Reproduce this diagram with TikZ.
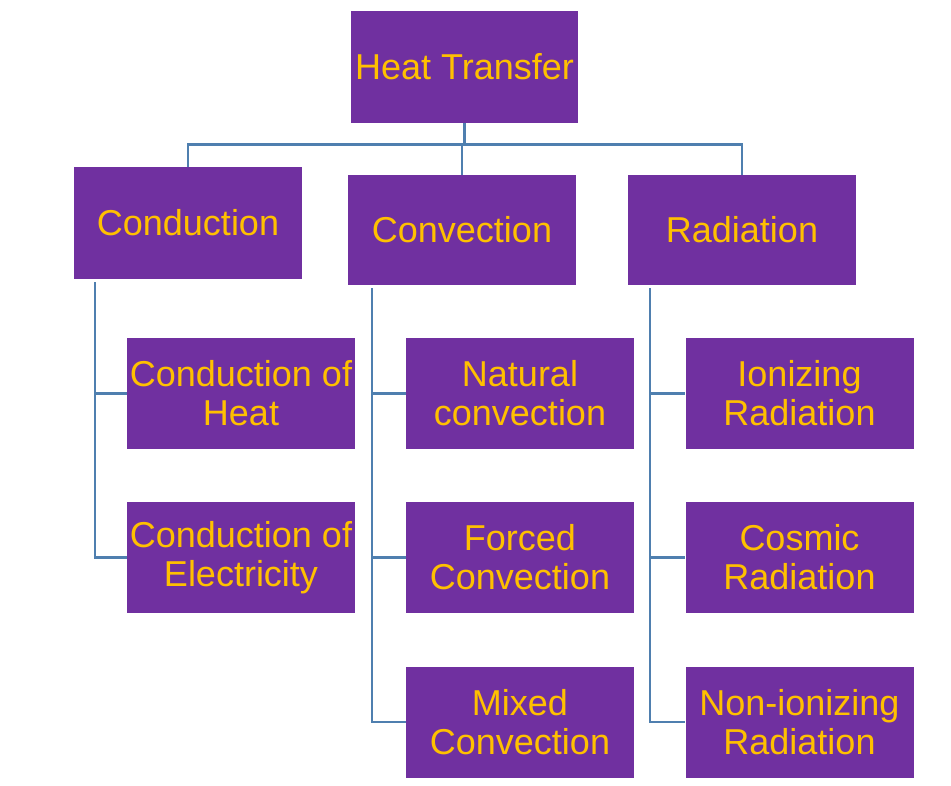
\documentclass[tikz,border=0pt]{standalone}
\usepackage{fontspec}
\setmainfont{Liberation Sans}
\definecolor{boxpurple}{HTML}{7030A0}
\definecolor{boxgold}{HTML}{FFC000}
\definecolor{linkblue}{HTML}{4F7FAF}
\begin{document}
\begin{tikzpicture}[x=1pt,y=-1pt,
  tbox/.style={draw=none,fill=boxpurple,text=boxgold,minimum width=228pt,minimum height=111pt,
    inner sep=0pt,align=center,font=\fontsize{36}{39}\selectfont},
  link/.style={draw=linkblue,line width=2.6pt}]
\useasboundingbox (0,0) rectangle (951,785);
\fill[white] (0,0) rectangle (951,785);
% top
\node[tbox,minimum width=227pt,minimum height=112pt] (heat) at (464.5,67) {Heat Transfer};
% level 1
\node[tbox,minimum height=112pt] (cond) at (188,223) {Conduction};
\node[tbox,minimum height=110pt] (conv) at (462,230) {Convection};
\node[tbox,minimum height=110pt] (rad) at (742,230) {Radiation};
% conduction children
\node[tbox] (c1) at (241,393.5) {Conduction of\\Heat};
\node[tbox] (c2) at (241,557.5) {Conduction of\\Electricity};
% convection children
\node[tbox] (v1) at (520,393.5) {Natural\\convection};
\node[tbox] (v2) at (520,557.5) {Forced\\Convection};
\node[tbox] (v3) at (520,722) {Mixed\\Convection};
% radiation children
\node[tbox] (r1) at (799.5,393.5) {Ionizing\\Radiation};
\node[tbox] (r2) at (799.5,557.5) {Cosmic\\Radiation};
\node[tbox] (r3) at (799.5,722) {Non-ionizing\\Radiation};
% connectors
\coordinate (hub) at ([yshift=-21pt]heat.south);
\draw[link] (heat.south) -- (hub);
\draw[link] (hub) -| (cond.north);
\draw[link] (hub) -| (conv.north);
\draw[link] (hub) -| (rad.north);
\draw[link] ([xshift=21pt,yshift=-3pt]cond.south west) |- (c1.west);
\draw[link] ([xshift=21pt,yshift=-3pt]cond.south west) |- (c2.west);
\draw[link] ([xshift=24pt,yshift=-3pt]conv.south west) |- (v1.west);
\draw[link] ([xshift=24pt,yshift=-3pt]conv.south west) |- (v2.west);
\draw[link] ([xshift=24pt,yshift=-3pt]conv.south west) |- (v3.west);
\draw[link] ([xshift=22pt,yshift=-3pt]rad.south west) |- (r1.west);
\draw[link] ([xshift=22pt,yshift=-3pt]rad.south west) |- (r2.west);
\draw[link] ([xshift=22pt,yshift=-3pt]rad.south west) |- (r3.west);
\end{tikzpicture}
\end{document}
